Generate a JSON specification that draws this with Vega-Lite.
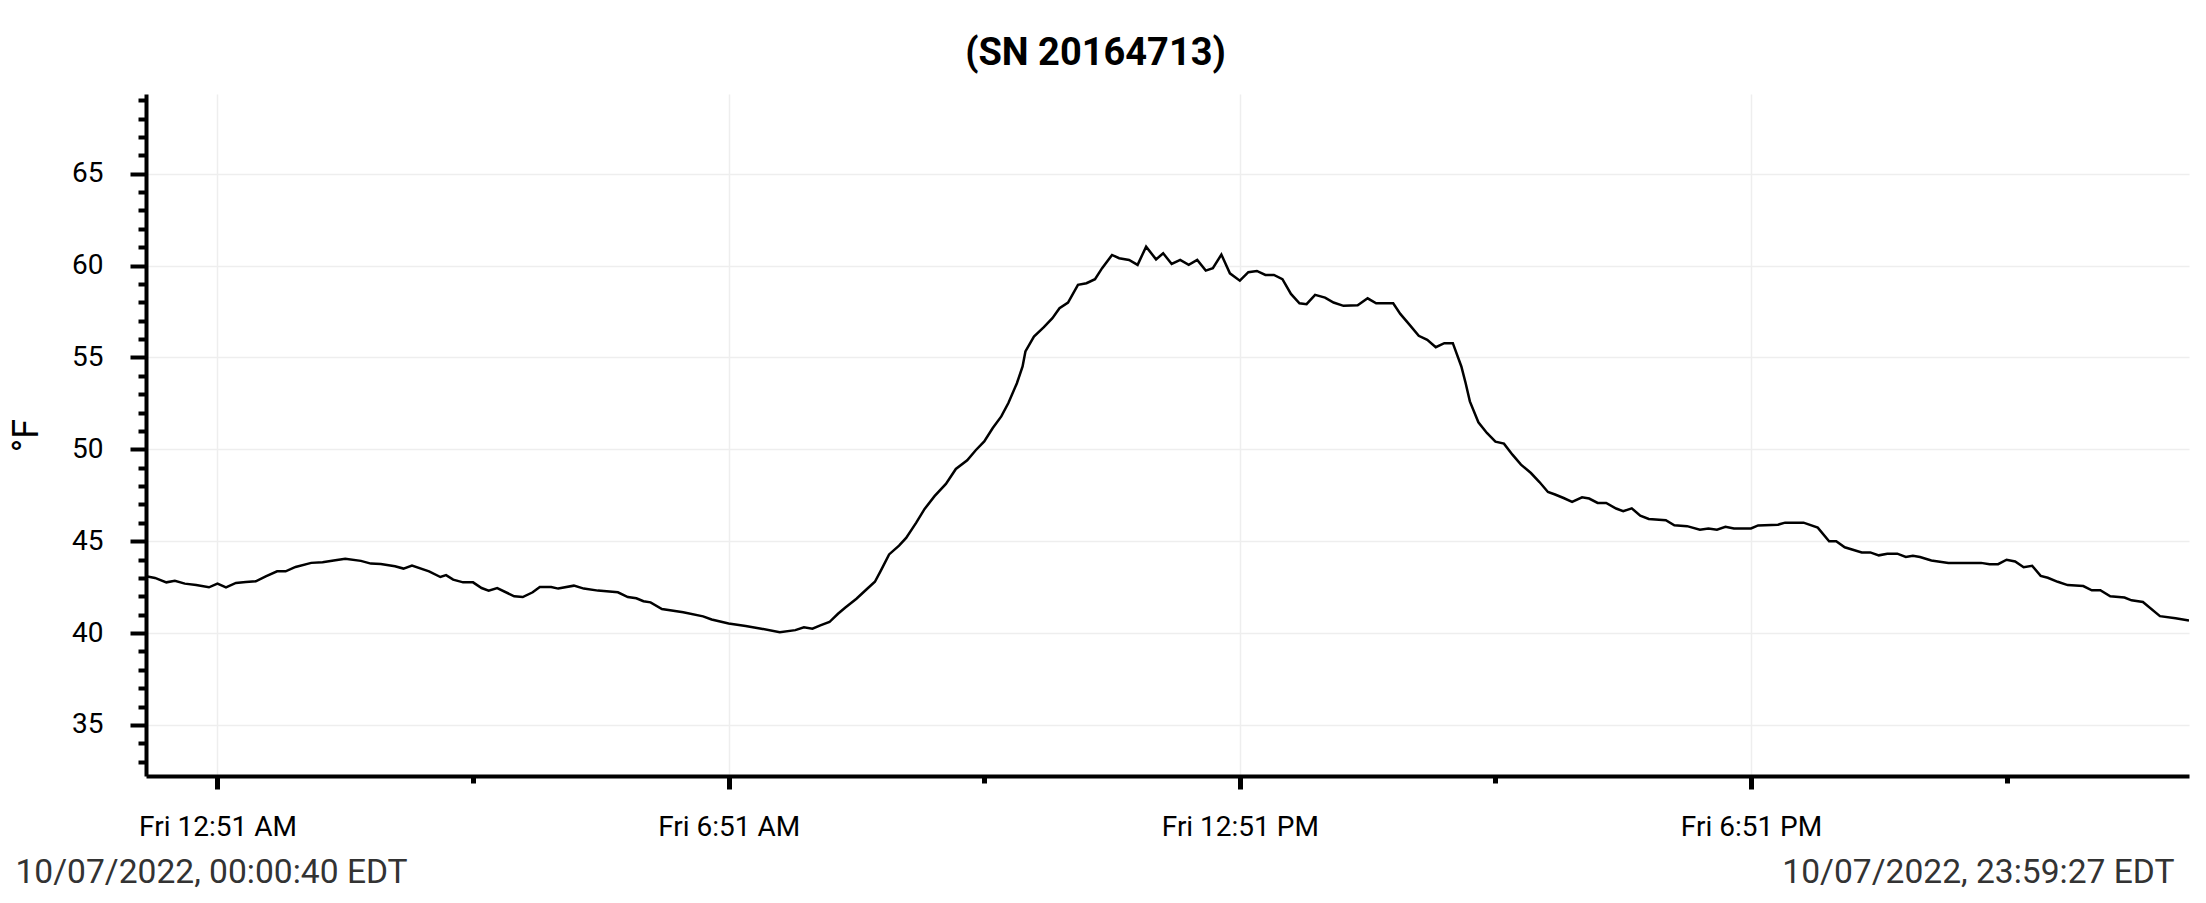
{
  "$schema": "https://vega.github.io/schema/vega-lite/v6.json",
  "autosize": "none",
  "padding": {"left": 146, "top": 94, "right": 17, "bottom": 127},
  "width": 2043,
  "height": 682,
  "background": "white",
  "title": {
    "text": "(SN 20164713)",
    "font": "Roboto",
    "fontSize": 38,
    "fontWeight": "bold",
    "color": "black",
    "anchor": "middle",
    "baseline": "alphabetic",
    "offset": 28,
    "dx": -72,
    "dy": 45
  },
  "data": {
    "values": [
      {"time": "2022-10-07T00:00:40Z", "temp": 43.1},
      {"time": "2022-10-07T00:07:00Z", "temp": 43.0},
      {"time": "2022-10-07T00:15:00Z", "temp": 42.76},
      {"time": "2022-10-07T00:21:00Z", "temp": 42.84},
      {"time": "2022-10-07T00:28:00Z", "temp": 42.69},
      {"time": "2022-10-07T00:36:00Z", "temp": 42.62},
      {"time": "2022-10-07T00:45:00Z", "temp": 42.49},
      {"time": "2022-10-07T00:51:00Z", "temp": 42.69},
      {"time": "2022-10-07T00:57:00Z", "temp": 42.49},
      {"time": "2022-10-07T01:04:00Z", "temp": 42.73},
      {"time": "2022-10-07T01:11:00Z", "temp": 42.78},
      {"time": "2022-10-07T01:18:00Z", "temp": 42.82},
      {"time": "2022-10-07T01:25:00Z", "temp": 43.09},
      {"time": "2022-10-07T01:33:00Z", "temp": 43.36},
      {"time": "2022-10-07T01:39:00Z", "temp": 43.36},
      {"time": "2022-10-07T01:46:00Z", "temp": 43.6},
      {"time": "2022-10-07T01:57:00Z", "temp": 43.82},
      {"time": "2022-10-07T02:05:00Z", "temp": 43.85},
      {"time": "2022-10-07T02:14:00Z", "temp": 43.96},
      {"time": "2022-10-07T02:21:00Z", "temp": 44.05},
      {"time": "2022-10-07T02:32:00Z", "temp": 43.93},
      {"time": "2022-10-07T02:39:00Z", "temp": 43.78},
      {"time": "2022-10-07T02:46:00Z", "temp": 43.76},
      {"time": "2022-10-07T02:56:00Z", "temp": 43.64},
      {"time": "2022-10-07T03:02:00Z", "temp": 43.51},
      {"time": "2022-10-07T03:08:00Z", "temp": 43.67},
      {"time": "2022-10-07T03:20:00Z", "temp": 43.36},
      {"time": "2022-10-07T03:28:00Z", "temp": 43.05},
      {"time": "2022-10-07T03:32:00Z", "temp": 43.15},
      {"time": "2022-10-07T03:37:00Z", "temp": 42.91},
      {"time": "2022-10-07T03:44:00Z", "temp": 42.76},
      {"time": "2022-10-07T03:51:00Z", "temp": 42.76},
      {"time": "2022-10-07T03:57:00Z", "temp": 42.45},
      {"time": "2022-10-07T04:02:00Z", "temp": 42.31},
      {"time": "2022-10-07T04:08:00Z", "temp": 42.45},
      {"time": "2022-10-07T04:20:00Z", "temp": 42.0},
      {"time": "2022-10-07T04:26:00Z", "temp": 41.96},
      {"time": "2022-10-07T04:33:00Z", "temp": 42.22},
      {"time": "2022-10-07T04:38:00Z", "temp": 42.51},
      {"time": "2022-10-07T04:46:00Z", "temp": 42.51},
      {"time": "2022-10-07T04:51:00Z", "temp": 42.42},
      {"time": "2022-10-07T05:02:00Z", "temp": 42.58},
      {"time": "2022-10-07T05:09:00Z", "temp": 42.42},
      {"time": "2022-10-07T05:19:00Z", "temp": 42.31},
      {"time": "2022-10-07T05:33:00Z", "temp": 42.22},
      {"time": "2022-10-07T05:40:00Z", "temp": 41.96},
      {"time": "2022-10-07T05:46:00Z", "temp": 41.89},
      {"time": "2022-10-07T05:51:00Z", "temp": 41.73},
      {"time": "2022-10-07T05:56:00Z", "temp": 41.67},
      {"time": "2022-10-07T06:04:00Z", "temp": 41.31},
      {"time": "2022-10-07T06:19:00Z", "temp": 41.13},
      {"time": "2022-10-07T06:33:00Z", "temp": 40.91},
      {"time": "2022-10-07T06:39:00Z", "temp": 40.74},
      {"time": "2022-10-07T06:51:00Z", "temp": 40.52},
      {"time": "2022-10-07T07:03:00Z", "temp": 40.38},
      {"time": "2022-10-07T07:14:00Z", "temp": 40.24},
      {"time": "2022-10-07T07:27:00Z", "temp": 40.05},
      {"time": "2022-10-07T07:38:00Z", "temp": 40.16},
      {"time": "2022-10-07T07:44:00Z", "temp": 40.31},
      {"time": "2022-10-07T07:50:00Z", "temp": 40.24},
      {"time": "2022-10-07T07:56:00Z", "temp": 40.43},
      {"time": "2022-10-07T08:02:00Z", "temp": 40.6},
      {"time": "2022-10-07T08:08:00Z", "temp": 41.05},
      {"time": "2022-10-07T08:13:00Z", "temp": 41.38},
      {"time": "2022-10-07T08:21:00Z", "temp": 41.87},
      {"time": "2022-10-07T08:28:00Z", "temp": 42.37},
      {"time": "2022-10-07T08:34:00Z", "temp": 42.79},
      {"time": "2022-10-07T08:38:00Z", "temp": 43.37},
      {"time": "2022-10-07T08:44:00Z", "temp": 44.28},
      {"time": "2022-10-07T08:51:00Z", "temp": 44.76},
      {"time": "2022-10-07T08:56:00Z", "temp": 45.18},
      {"time": "2022-10-07T09:03:00Z", "temp": 46.0},
      {"time": "2022-10-07T09:09:00Z", "temp": 46.76},
      {"time": "2022-10-07T09:16:00Z", "temp": 47.45},
      {"time": "2022-10-07T09:24:00Z", "temp": 48.12},
      {"time": "2022-10-07T09:31:00Z", "temp": 48.93},
      {"time": "2022-10-07T09:39:00Z", "temp": 49.4},
      {"time": "2022-10-07T09:45:00Z", "temp": 49.95},
      {"time": "2022-10-07T09:51:00Z", "temp": 50.43},
      {"time": "2022-10-07T09:57:00Z", "temp": 51.16},
      {"time": "2022-10-07T10:03:00Z", "temp": 51.79},
      {"time": "2022-10-07T10:08:00Z", "temp": 52.52},
      {"time": "2022-10-07T10:14:00Z", "temp": 53.6},
      {"time": "2022-10-07T10:18:00Z", "temp": 54.51},
      {"time": "2022-10-07T10:20:00Z", "temp": 55.33},
      {"time": "2022-10-07T10:26:00Z", "temp": 56.14},
      {"time": "2022-10-07T10:33:00Z", "temp": 56.65},
      {"time": "2022-10-07T10:39:00Z", "temp": 57.14},
      {"time": "2022-10-07T10:44:00Z", "temp": 57.68},
      {"time": "2022-10-07T10:50:00Z", "temp": 57.99},
      {"time": "2022-10-07T10:57:00Z", "temp": 58.95},
      {"time": "2022-10-07T11:03:00Z", "temp": 59.04},
      {"time": "2022-10-07T11:09:00Z", "temp": 59.26},
      {"time": "2022-10-07T11:14:00Z", "temp": 59.86},
      {"time": "2022-10-07T11:21:00Z", "temp": 60.58},
      {"time": "2022-10-07T11:26:00Z", "temp": 60.4},
      {"time": "2022-10-07T11:33:00Z", "temp": 60.31},
      {"time": "2022-10-07T11:39:00Z", "temp": 60.04},
      {"time": "2022-10-07T11:45:00Z", "temp": 61.03},
      {"time": "2022-10-07T11:52:00Z", "temp": 60.34},
      {"time": "2022-10-07T11:57:00Z", "temp": 60.67},
      {"time": "2022-10-07T12:03:00Z", "temp": 60.09},
      {"time": "2022-10-07T12:09:00Z", "temp": 60.31},
      {"time": "2022-10-07T12:15:00Z", "temp": 60.04},
      {"time": "2022-10-07T12:21:00Z", "temp": 60.31},
      {"time": "2022-10-07T12:27:00Z", "temp": 59.73},
      {"time": "2022-10-07T12:32:00Z", "temp": 59.86},
      {"time": "2022-10-07T12:38:00Z", "temp": 60.6},
      {"time": "2022-10-07T12:44:00Z", "temp": 59.58},
      {"time": "2022-10-07T12:51:00Z", "temp": 59.18},
      {"time": "2022-10-07T12:57:00Z", "temp": 59.64},
      {"time": "2022-10-07T13:03:00Z", "temp": 59.71},
      {"time": "2022-10-07T13:09:00Z", "temp": 59.49},
      {"time": "2022-10-07T13:15:00Z", "temp": 59.49},
      {"time": "2022-10-07T13:21:00Z", "temp": 59.26},
      {"time": "2022-10-07T13:27:00Z", "temp": 58.46},
      {"time": "2022-10-07T13:33:00Z", "temp": 57.95},
      {"time": "2022-10-07T13:38:00Z", "temp": 57.9},
      {"time": "2022-10-07T13:44:00Z", "temp": 58.41},
      {"time": "2022-10-07T13:51:00Z", "temp": 58.26},
      {"time": "2022-10-07T13:57:00Z", "temp": 57.99},
      {"time": "2022-10-07T14:04:00Z", "temp": 57.81},
      {"time": "2022-10-07T14:14:00Z", "temp": 57.84},
      {"time": "2022-10-07T14:21:00Z", "temp": 58.22},
      {"time": "2022-10-07T14:27:00Z", "temp": 57.95},
      {"time": "2022-10-07T14:39:00Z", "temp": 57.95},
      {"time": "2022-10-07T14:44:00Z", "temp": 57.37},
      {"time": "2022-10-07T14:50:00Z", "temp": 56.83},
      {"time": "2022-10-07T14:57:00Z", "temp": 56.18},
      {"time": "2022-10-07T15:03:00Z", "temp": 55.96},
      {"time": "2022-10-07T15:09:00Z", "temp": 55.56},
      {"time": "2022-10-07T15:15:00Z", "temp": 55.78},
      {"time": "2022-10-07T15:21:00Z", "temp": 55.78},
      {"time": "2022-10-07T15:27:00Z", "temp": 54.51},
      {"time": "2022-10-07T15:30:00Z", "temp": 53.61},
      {"time": "2022-10-07T15:33:00Z", "temp": 52.61},
      {"time": "2022-10-07T15:39:00Z", "temp": 51.47},
      {"time": "2022-10-07T15:45:00Z", "temp": 50.89},
      {"time": "2022-10-07T15:51:00Z", "temp": 50.42},
      {"time": "2022-10-07T15:57:00Z", "temp": 50.31},
      {"time": "2022-10-07T16:03:00Z", "temp": 49.71},
      {"time": "2022-10-07T16:09:00Z", "temp": 49.17},
      {"time": "2022-10-07T16:16:00Z", "temp": 48.71},
      {"time": "2022-10-07T16:22:00Z", "temp": 48.22},
      {"time": "2022-10-07T16:28:00Z", "temp": 47.68},
      {"time": "2022-10-07T16:33:00Z", "temp": 47.54},
      {"time": "2022-10-07T16:39:00Z", "temp": 47.35},
      {"time": "2022-10-07T16:45:00Z", "temp": 47.14},
      {"time": "2022-10-07T16:52:00Z", "temp": 47.39},
      {"time": "2022-10-07T16:57:00Z", "temp": 47.32},
      {"time": "2022-10-07T17:03:00Z", "temp": 47.08},
      {"time": "2022-10-07T17:09:00Z", "temp": 47.08},
      {"time": "2022-10-07T17:16:00Z", "temp": 46.78},
      {"time": "2022-10-07T17:21:00Z", "temp": 46.63},
      {"time": "2022-10-07T17:27:00Z", "temp": 46.79},
      {"time": "2022-10-07T17:33:00Z", "temp": 46.39},
      {"time": "2022-10-07T17:39:00Z", "temp": 46.21},
      {"time": "2022-10-07T17:51:00Z", "temp": 46.14},
      {"time": "2022-10-07T17:57:00Z", "temp": 45.87},
      {"time": "2022-10-07T18:06:00Z", "temp": 45.82},
      {"time": "2022-10-07T18:15:00Z", "temp": 45.63},
      {"time": "2022-10-07T18:21:00Z", "temp": 45.69},
      {"time": "2022-10-07T18:27:00Z", "temp": 45.63},
      {"time": "2022-10-07T18:33:00Z", "temp": 45.78},
      {"time": "2022-10-07T18:39:00Z", "temp": 45.69},
      {"time": "2022-10-07T18:51:00Z", "temp": 45.69},
      {"time": "2022-10-07T18:56:00Z", "temp": 45.86},
      {"time": "2022-10-07T19:10:00Z", "temp": 45.9},
      {"time": "2022-10-07T19:15:00Z", "temp": 46.01},
      {"time": "2022-10-07T19:28:00Z", "temp": 46.01},
      {"time": "2022-10-07T19:38:00Z", "temp": 45.74},
      {"time": "2022-10-07T19:46:00Z", "temp": 45.0},
      {"time": "2022-10-07T19:51:00Z", "temp": 45.0},
      {"time": "2022-10-07T19:57:00Z", "temp": 44.67},
      {"time": "2022-10-07T20:09:00Z", "temp": 44.39},
      {"time": "2022-10-07T20:15:00Z", "temp": 44.39},
      {"time": "2022-10-07T20:21:00Z", "temp": 44.23},
      {"time": "2022-10-07T20:27:00Z", "temp": 44.32},
      {"time": "2022-10-07T20:34:00Z", "temp": 44.32},
      {"time": "2022-10-07T20:40:00Z", "temp": 44.14},
      {"time": "2022-10-07T20:45:00Z", "temp": 44.21},
      {"time": "2022-10-07T20:50:00Z", "temp": 44.14},
      {"time": "2022-10-07T20:58:00Z", "temp": 43.95},
      {"time": "2022-10-07T21:10:00Z", "temp": 43.82},
      {"time": "2022-10-07T21:33:00Z", "temp": 43.82},
      {"time": "2022-10-07T21:39:00Z", "temp": 43.75},
      {"time": "2022-10-07T21:45:00Z", "temp": 43.75},
      {"time": "2022-10-07T21:51:00Z", "temp": 43.99},
      {"time": "2022-10-07T21:57:00Z", "temp": 43.9},
      {"time": "2022-10-07T22:03:00Z", "temp": 43.58},
      {"time": "2022-10-07T22:09:00Z", "temp": 43.66},
      {"time": "2022-10-07T22:15:00Z", "temp": 43.11},
      {"time": "2022-10-07T22:20:00Z", "temp": 43.01},
      {"time": "2022-10-07T22:27:00Z", "temp": 42.79},
      {"time": "2022-10-07T22:34:00Z", "temp": 42.61},
      {"time": "2022-10-07T22:45:00Z", "temp": 42.56},
      {"time": "2022-10-07T22:51:00Z", "temp": 42.33},
      {"time": "2022-10-07T22:57:00Z", "temp": 42.33},
      {"time": "2022-10-07T23:04:00Z", "temp": 42.0},
      {"time": "2022-10-07T23:14:00Z", "temp": 41.93},
      {"time": "2022-10-07T23:19:00Z", "temp": 41.78},
      {"time": "2022-10-07T23:27:00Z", "temp": 41.69},
      {"time": "2022-10-07T23:39:00Z", "temp": 40.92},
      {"time": "2022-10-07T23:50:00Z", "temp": 40.81},
      {"time": "2022-10-07T23:59:27Z", "temp": 40.68}
    ]
  },
  "mark": {"type": "line", "color": "black", "strokeWidth": 2.5, "clip": true},
  "encoding": {
    "x": {
      "field": "time",
      "type": "temporal",
      "scale": {
        "type": "utc",
        "nice": false,
        "domain": [
          {"year": 2022, "month": 10, "date": 7, "hours": 0, "minutes": 0, "seconds": 40, "utc": true},
          {"year": 2022, "month": 10, "date": 7, "hours": 23, "minutes": 59, "seconds": 27, "utc": true}
        ]
      },
      "axis": {
        "title": null,
        "values": [
          {"year": 2022, "month": 10, "date": 7, "hours": 0, "minutes": 0, "seconds": 40, "utc": true},
          {"year": 2022, "month": 10, "date": 7, "hours": 0, "minutes": 51, "utc": true},
          {"year": 2022, "month": 10, "date": 7, "hours": 3, "minutes": 51, "utc": true},
          {"year": 2022, "month": 10, "date": 7, "hours": 6, "minutes": 51, "utc": true},
          {"year": 2022, "month": 10, "date": 7, "hours": 9, "minutes": 51, "utc": true},
          {"year": 2022, "month": 10, "date": 7, "hours": 12, "minutes": 51, "utc": true},
          {"year": 2022, "month": 10, "date": 7, "hours": 15, "minutes": 51, "utc": true},
          {"year": 2022, "month": 10, "date": 7, "hours": 18, "minutes": 51, "utc": true},
          {"year": 2022, "month": 10, "date": 7, "hours": 21, "minutes": 51, "utc": true},
          {"year": 2022, "month": 10, "date": 7, "hours": 23, "minutes": 59, "seconds": 27, "utc": true}
        ],
        "labelExpr": "utcminutes(datum.value) != 51 ? utcFormat(datum.value, '%m/%d/%Y, %H:%M:%S') + ' EDT' : (utchours(datum.value) % 6 == 0 ? 'Fri ' + utcFormat(datum.value, '%-I:%M %p') : '')",
        "labelOverlap": false,
        "labelBound": false,
        "labelFlush": false,
        "labelLimit": 800,
        "labelFont": "Roboto",
        "labelFontSize": {"condition": {"test": "utcminutes(datum.value) != 51", "value": 33.6}, "value": 28},
        "labelColor": {"condition": {"test": "utcminutes(datum.value) != 51", "value": "#333333"}, "value": "#000000"},
        "labelAlign": {
          "condition": [
            {"test": "utchours(datum.value) == 0 && utcminutes(datum.value) == 0", "value": "left"},
            {"test": "utchours(datum.value) == 23 && utcminutes(datum.value) == 59", "value": "right"}
          ],
          "value": "center"
        },
        "labelOffset": {
          "condition": [
            {"test": "utchours(datum.value) == 0 && utcminutes(datum.value) == 0", "value": -131},
            {"test": "utchours(datum.value) == 23 && utcminutes(datum.value) == 59", "value": -15}
          ],
          "value": 0
        },
        "labelPadding": {"condition": {"test": "utcminutes(datum.value) != 51", "value": 79}, "value": 24},
        "tickSize": {
          "condition": [
            {"test": "utcminutes(datum.value) != 51", "value": 0},
            {"test": "utchours(datum.value) % 6 == 3", "value": 7}
          ],
          "value": 13
        },
        "tickWidth": 5,
        "tickColor": "black",
        "domainColor": "black",
        "domainWidth": 4,
        "grid": true,
        "gridColor": "#eeeeee",
        "gridWidth": 1.5,
        "gridOpacity": {"condition": {"test": "utcminutes(datum.value) == 51 && utchours(datum.value) % 6 == 0", "value": 1}, "value": 0}
      }
    },
    "y": {
      "field": "temp",
      "type": "quantitative",
      "scale": {"domain": [32.22, 69.34], "nice": false, "zero": false},
      "axis": {
        "title": "°F",
        "titleFont": "Roboto",
        "titleFontSize": 36,
        "titleFontWeight": "normal",
        "titleColor": "black",
        "titlePadding": 26,
        "values": [33, 34, 35, 36, 37, 38, 39, 40, 41, 42, 43, 44, 45, 46, 47, 48, 49, 50, 51, 52, 53, 54, 55, 56, 57, 58, 59, 60, 61, 62, 63, 64, 65, 66, 67, 68, 69],
        "labelExpr": "datum.value % 5 == 0 ? datum.value : ''",
        "labelOverlap": false,
        "labelBound": false,
        "labelFlush": false,
        "labelFont": "Roboto",
        "labelFontSize": 28,
        "labelColor": "black",
        "labelPadding": 27,
        "tickSize": {"condition": {"test": "datum.value % 5 == 0", "value": 16}, "value": 8},
        "tickWidth": 4,
        "tickColor": "black",
        "domainColor": "black",
        "domainWidth": 4,
        "grid": true,
        "gridColor": "#eeeeee",
        "gridWidth": 1.5,
        "gridOpacity": {"condition": {"test": "datum.value % 5 == 0", "value": 1}, "value": 0}
      }
    }
  },
  "config": {
    "view": {"stroke": null},
    "font": "Roboto"
  }
}
